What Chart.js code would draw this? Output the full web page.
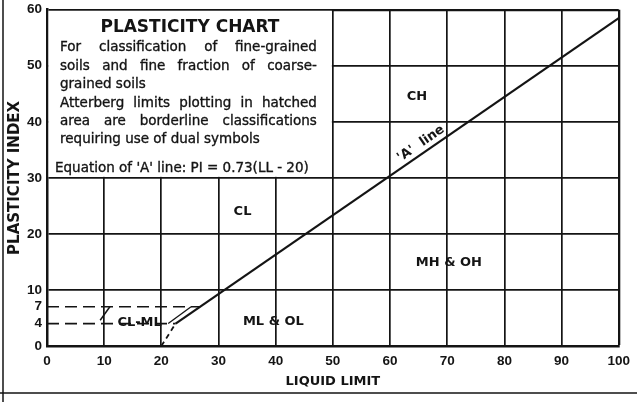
<!DOCTYPE html>
<html>
<head>
<meta charset="utf-8">
<script src="https://cdn.jsdelivr.net/npm/chart.js@4/dist/chart.umd.min.js"></script>
<style>
  html, body { margin: 0; padding: 0; background: #fff; }
  canvas { display: block; }
</style>
</head>
<body>
<canvas id="plasticity" width="637" height="402"></canvas>
<script>
// values (LL = liquid limit, PI = plasticity index)
var piTicks = [0, 4, 7, 10, 20, 30, 40, 50, 60];
var aLine = [{x: 22.5, y: 4}, {x: 100, y: 58.5}];
var aLineBelow = [{x: 20, y: 0}, {x: 22.5, y: 4}];
var pi4Dash = [{x: 0, y: 4}, {x: 22.5, y: 4}];
var pi7Dash = [{x: 0, y: 7}, {x: 26.8, y: 7}];
var hatchLeft = [{x: 9.3, y: 4.6}, {x: 11, y: 7}];
var hatchRight = [{x: 21.2, y: 4}, {x: 25.2, y: 7}];

var zoneNames = ['CL', 'CH', 'MH & OH', 'ML & OL', 'CL-ML'];
var zoneLL = [34.2, 64.7, 70.3, 39.6, 16.2];
var zonePI = [23.9, 44.5, 14.8, 4.3, 4.2];

var boxTitle = 'PLASTICITY CHART';
var boxLines = [
  ['For classification of fine-grained', true],
  ['soils and fine fraction of coarse-', true],
  ['grained soils', false],
  ['Atterberg limits plotting in hatched', true],
  ['area are borderline classifications', true],
  ['requiring use of dual symbols', false]
];
var boxEquation = "Equation of 'A' line: PI = 0.73(LL - 20)";

var INK = '#141414';
var FONT = '"DejaVu Sans", sans-serif';

function justify(ctx, text, x0, x1, y) {
  var words = text.split(' ');
  var total = 0;
  words.forEach(function (w) { total += ctx.measureText(w).width; });
  var gap = (x1 - x0 - total) / (words.length - 1);
  var x = x0;
  words.forEach(function (w) {
    ctx.fillText(w, x, y);
    ctx.strokeText(w, x, y);
    x += ctx.measureText(w).width + gap;
  });
}

var chartText = {
  id: 'chartText',
  beforeDatasetsDraw: function (chart) {
    var ctx = chart.ctx, a = chart.chartArea, sx = chart.scales.x, sy = chart.scales.y;
    var bx = sx.getPixelForValue(50), by = sy.getPixelForValue(30);
    ctx.save();
    // white info box over the top-left grid cells
    ctx.fillStyle = '#fff';
    ctx.fillRect(a.left + 1.5, a.top + 1, bx - a.left - 2.5, by - a.top - 2);

    ctx.fillStyle = INK;
    ctx.strokeStyle = INK;
    ctx.lineWidth = 0.35;
    ctx.textBaseline = 'alphabetic';
    ctx.textAlign = 'center';
    ctx.font = 'bold 17px ' + FONT;
    ctx.fillText(boxTitle, (a.left + bx) / 2, a.top + 22);

    ctx.font = '13.5px ' + FONT;
    ctx.textAlign = 'left';
    var left = a.left + 13, right = bx - 16;
    var base = [41, 60, 78, 97, 115, 133];
    boxLines.forEach(function (ln, i) {
      if (ln[1]) {
        justify(ctx, ln[0], left, right, a.top + base[i]);
      } else {
        ctx.fillText(ln[0], left, a.top + base[i]);
        ctx.strokeText(ln[0], left, a.top + base[i]);
      }
    });
    var eqW = bx - a.left - 27;
    ctx.fillText(boxEquation, a.left + 8, a.top + 162, eqW);
    ctx.strokeText(boxEquation, a.left + 8, a.top + 162, eqW);
    ctx.restore();
  },
  afterDatasetsDraw: function (chart) {
    var ctx = chart.ctx, sx = chart.scales.x, sy = chart.scales.y;
    ctx.save();
    ctx.fillStyle = INK;
    ctx.font = 'bold 13px ' + FONT;
    ctx.textAlign = 'center';
    ctx.textBaseline = 'middle';
    zoneNames.forEach(function (n, i) {
      ctx.fillText(n, sx.getPixelForValue(zoneLL[i]), sy.getPixelForValue(zonePI[i]));
    });

    // 'A' line label, laid along the line
    var x0 = sx.getPixelForValue(aLine[0].x), y0 = sy.getPixelForValue(aLine[0].y);
    var x1 = sx.getPixelForValue(aLine[1].x), y1 = sy.getPixelForValue(aLine[1].y);
    var ang = Math.atan2(y1 - y0, x1 - x0);
    var px = sx.getPixelForValue(66.3);
    var py = y0 + (px - x0) * Math.tan(ang);
    ctx.translate(px, py);
    ctx.rotate(ang);
    ctx.font = 'bold 13px ' + FONT;
    ctx.fillText("'A'  line", 0, -9);
    ctx.restore();
  },
  afterDraw: function (chart) {
    var ctx = chart.ctx;
    ctx.save();
    ctx.strokeStyle = INK;
    ctx.lineWidth = 1.5;
    ctx.beginPath();
    ctx.moveTo(3, 0); ctx.lineTo(3, 402);
    ctx.moveTo(0, 393); ctx.lineTo(637, 393);
    ctx.stroke();
    ctx.restore();
  }
};

function seg(points, width, dash) {
  return {
    data: points,
    showLine: true,
    borderColor: INK,
    borderWidth: width,
    borderDash: dash || [],
    pointRadius: 0,
    pointHoverRadius: 0,
    fill: false
  };
}

new Chart(document.getElementById('plasticity'), {
  type: 'scatter',
  data: {
    datasets: [
      seg(aLine, 2.2),
      seg(aLineBelow, 1.8, [5, 4]),
      seg(pi4Dash, 1.7, [12, 6]),
      seg(pi7Dash, 1.7, [12, 6]),
      seg(hatchLeft, 1.5),
      seg(hatchRight, 1.3)
    ]
  },
  options: {
    responsive: false,
    animation: false,
    layout: { padding: { top: 5, right: 17, bottom: 0, left: 0 } },
    plugins: { legend: { display: false }, tooltip: { enabled: false } },
    scales: {
      x: {
        type: 'linear',
        min: 0,
        max: 100,
        afterFit: function (s) { s.height = 56; },
        ticks: {
          stepSize: 10,
          padding: 7,
          color: INK,
          font: { family: '"Liberation Sans", Arial, sans-serif', size: 13.5, weight: 'bold' }
        },
        grid: {
          drawTicks: false,
          color: INK,
          lineWidth: function (c) { return c.tick && c.tick.value === 100 ? 2.3 : 1.7; }
        },
        border: { color: INK, width: 2.5 },
        title: {
          display: true,
          text: 'LIQUID LIMIT',
          color: INK,
          font: { family: FONT, size: 13, weight: 'bold' },
          padding: { top: 0, bottom: 13 }
        }
      },
      y: {
        type: 'linear',
        min: 0,
        max: 60,
        afterFit: function (s) { s.width = 47; },
        afterBuildTicks: function (s) {
          s.ticks = piTicks.map(function (v) { return { value: v }; });
        },
        ticks: {
          padding: 5,
          color: INK,
          font: { family: '"Liberation Sans", Arial, sans-serif', size: 13.5, weight: 'bold', lineHeight: 0.7 }
        },
        grid: {
          drawTicks: false,
          color: function (c) {
            return c.tick && c.tick.value % 10 === 0 ? INK : 'rgba(0,0,0,0)';
          },
          lineWidth: function (c) { return c.tick && c.tick.value === 60 ? 2.3 : 1.7; }
        },
        border: { color: INK, width: 2.5 },
        title: {
          display: true,
          text: 'PLASTICITY INDEX',
          color: INK,
          font: { family: FONT, size: 15, weight: 'bold' },
          padding: { top: 6, bottom: 0 }
        }
      }
    }
  },
  plugins: [chartText]
});
</script>
</body>
</html>
